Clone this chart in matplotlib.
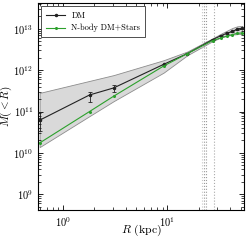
import matplotlib
matplotlib.use("Agg")
import matplotlib.pyplot as plt
from matplotlib.lines import Line2D
import numpy as np

plt.rcParams['font.family'] = ['cmr10', 'DejaVu Serif']
plt.rcParams['mathtext.fontset'] = 'cm'
plt.rcParams['axes.formatter.use_mathtext'] = True

# DM profile (log10 M)
r_dm = [0.6, 1.8, 3.06, 9.2, 15.5, 27.0, 32.5, 37.5, 41.9, 46.7, 52.0]
logm_dm = [10.79, 11.40, 11.57, 12.14, 12.40, 12.738, 12.833, 12.898, 12.936, 12.993, 13.017]
logm_err_lo = [10.54, 11.24, 11.46, 12.12, 12.39, 12.73, 12.82, 12.885, 12.92, 12.98, 13.00]
logm_err_hi = [11.00, 11.48, 11.64, 12.16, 12.41, 12.75, 12.85, 12.91, 12.95, 13.005, 13.03]
band_hi = [11.45, 11.74, 11.88, 12.24, 12.45, 12.77, 12.88, 12.96, 13.02, 13.06, 13.07]
band_lo = [10.14, 10.89, 11.25, 11.94, 12.36, 12.70, 12.79, 12.83, 12.86, 12.87, 12.88]

# N-body DM+Stars
r_nb = [0.6, 1.8, 3.06, 9.2, 15.5, 27.0, 32.5, 37.5, 41.9, 46.7, 52.0]
logm_nb = [10.24, 11.00, 11.37, 12.10, 12.40, 12.714, 12.78, 12.83, 12.86, 12.89, 12.90]

vlines = [21.4, 22.4, 23.4, 27.6]
vline_colors = ['#c8c8c8', '#9a9a9a', '#9a9a9a', '#aaaaaa']

m_dm = 10 ** np.array(logm_dm)
err_lo = m_dm - 10 ** np.array(logm_err_lo)
err_hi = 10 ** np.array(logm_err_hi) - m_dm

fig = plt.figure(figsize=(2.49, 2.40), dpi=100)
ax = fig.add_axes([0.153, 0.125, 0.827, 0.862])

ax.fill_between(r_dm, 10 ** np.array(band_lo), 10 ** np.array(band_hi),
                facecolor='#d9d9d9', edgecolor='#8c8c8c', linewidth=0.6, zorder=1)
ax.errorbar(r_dm, m_dm, yerr=[err_lo, err_hi], color='#222222', lw=0.8,
            marker='o', ms=1.5, capsize=1.5, elinewidth=0.6, capthick=0.6,
            zorder=3)
ax.plot(r_nb, 10 ** np.array(logm_nb), color='#2ca02c', lw=0.8, marker='o',
        ms=1.2, zorder=4)
for xv, c in zip(vlines, vline_colors):
    ax.axvline(xv, color=c, ls=':', lw=0.8, zorder=2)

ax.set_xscale('log')
ax.set_yscale('log')
ax.set_xlim(0.58, 54)
ax.set_ylim(10 ** 8.62, 10 ** 13.62)
ax.tick_params(which='both', direction='in', top=True, right=True, labelsize=7.5)
ax.tick_params(which='major', length=3.5, width=0.6)
ax.tick_params(which='minor', length=2, width=0.5)
for s in ax.spines.values():
    s.set_linewidth(0.8)

ax.set_xlabel('$R$ (kpc)', fontsize=8.5)
ax.set_ylabel('$M(<R)$', fontsize=8)
ax.xaxis.set_label_coords(0.5, -0.06)
ax.yaxis.set_label_coords(-0.118, 0.5)

handles = [Line2D([], [], color='#222222', lw=0.8, marker='o', ms=1.5),
           Line2D([], [], color='#2ca02c', lw=0.8, marker='o', ms=1.2)]
leg = ax.legend(handles, ['DM', 'N-body DM+Stars'], loc='upper left', fontsize=6,
                frameon=True, fancybox=False, edgecolor='#333333', framealpha=1,
                handlelength=2.2, borderaxespad=0.4, borderpad=0.6)
leg.get_frame().set_linewidth(0.6)

fig.savefig('out.png', dpi=100)
